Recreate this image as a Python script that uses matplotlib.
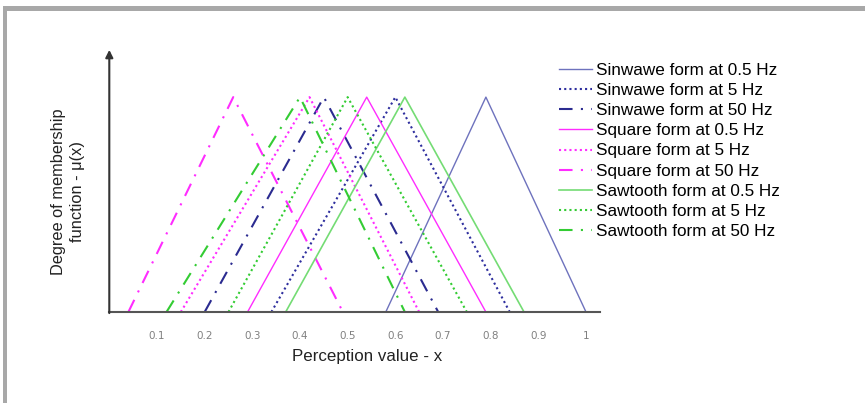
import matplotlib
matplotlib.use('Agg')
import matplotlib.pyplot as plt
from matplotlib.patches import Rectangle

plt.rcParams['font.family'] = ['Liberation Sans', 'DejaVu Sans']

# triangle membership functions: left foot, peak, right foot
labels = ['Sinwawe form at 0.5 Hz', 'Sinwawe form at 5 Hz', 'Sinwawe form at 50 Hz',
          'Square form at 0.5 Hz', 'Square form at 5 Hz', 'Square form at 50 Hz',
          'Sawtooth form at 0.5 Hz', 'Sawtooth form at 5 Hz', 'Sawtooth form at 50 Hz']
left = [0.58, 0.34, 0.20, 0.29, 0.15, 0.04, 0.37, 0.25, 0.12]
peak = [0.79, 0.60, 0.45, 0.54, 0.42, 0.26, 0.62, 0.50, 0.40]
right = [1.00, 0.84, 0.69, 0.79, 0.65, 0.49, 0.87, 0.75, 0.62]

xticks = [0.1, 0.2, 0.3, 0.4, 0.5, 0.6, 0.7, 0.8, 0.9, 1.0]
xtick_labels = ['0.1', '0.2', '0.3', '0.4', '0.5', '0.6', '0.7', '0.8', '0.9', '1']

colors = ['#6e72bd', '#2e2e9e', '#2b2b90',
          '#ff2cff', '#ff2cff', '#ff2cff',
          '#74dc74', '#33cc33', '#33cc33']
solid = '-'
dotted = (0, (1.0, 1.5))
dashdot = (0, (6.5, 4, 1, 4))
styles = [solid, dotted, dashdot] * 3
widths = [1.0, 1.5, 1.5, 1.0, 1.5, 1.5, 1.2, 1.5, 1.5]

fig = plt.figure(figsize=(8.65, 4.03), dpi=100)
fig.patch.set_facecolor('white')

# grey frame pieces (top and left edge of the screenshot)
fig.add_artist(Rectangle((3 / 865, 1 - 11 / 403), 1, 5 / 403, transform=fig.transFigure,
                         color='#a8a8a8', lw=0))
fig.add_artist(Rectangle((3 / 865, 0), 4 / 865, 1 - 6 / 403, transform=fig.transFigure,
                         color='#a8a8a8', lw=0))

ax = fig.add_axes([109.3 / 865, (403 - 312) / 403, 491 / 865, 260 / 403])
ax.set_xlim(0, 1.03)
ax.set_ylim(0, 1.21)

for i in range(len(labels)):
    ax.plot([left[i], peak[i], right[i]], [0, 1, 0], color=colors[i], ls=styles[i],
            lw=widths[i], label=labels[i], clip_on=False)

for s in ['top', 'right', 'left']:
    ax.spines[s].set_visible(False)
ax.spines['bottom'].set_color('#555555')
ax.spines['bottom'].set_linewidth(1.5)

ax.annotate('', xy=(0, 1.22), xytext=(0, -0.005),
            arrowprops=dict(arrowstyle='-|>', color='#333333', lw=1.5,
                            mutation_scale=11, shrinkA=0, shrinkB=0),
            annotation_clip=False)

ax.set_xticks(xticks)
ax.set_xticklabels(xtick_labels, fontsize=7.5, color='#808080', family='DejaVu Sans')
ax.tick_params(axis='x', length=0, pad=14)
ax.set_yticks([])

fig.text(367 / 865, 1 - 357 / 403, 'Perception value - x', fontsize=12.2,
         ha='center', va='center', color='#222222')
fig.text(68 / 865, 1 - 192 / 403, 'Degree of membership\nfunction - \u03bc(x)', fontsize=11.8,
         ha='center', va='center', rotation=90, multialignment='center', color='#222222',
         linespacing=1.35)

fig.legend(loc='upper left', bbox_to_anchor=(559 / 865, 1 - 63 / 403), frameon=False,
           fontsize=12.3, handlelength=1.95, handletextpad=0.2, labelspacing=0.3,
           borderaxespad=0, borderpad=0)

fig.savefig('out.png', dpi=100)
